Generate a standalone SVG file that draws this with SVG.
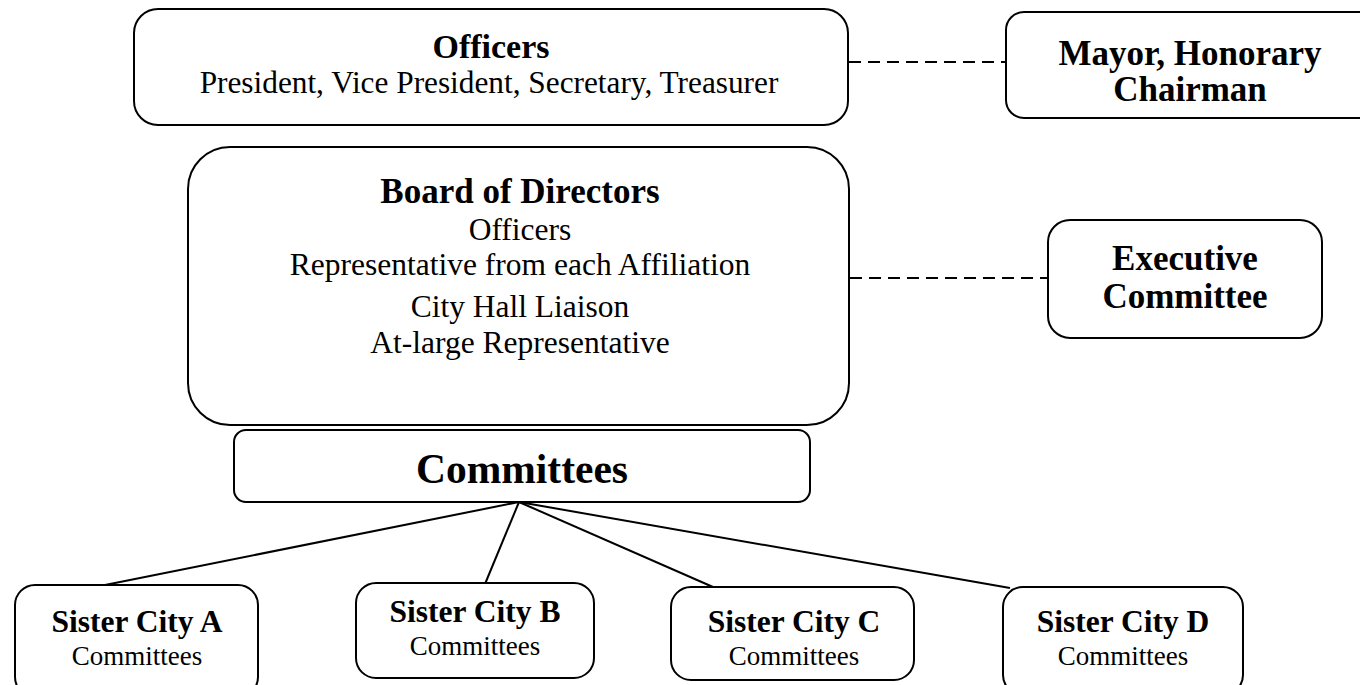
<svg xmlns="http://www.w3.org/2000/svg" width="1360" height="685" viewBox="0 0 1360 685">
<style>
.box{fill:#fff;stroke:#000;stroke-width:2}
.t{font-family:"Liberation Serif","Times New Roman",serif;text-anchor:middle;fill:#000}
.b{font-weight:bold}
.h{font-size:35px}
.r{font-size:31.5px}
.sc{font-size:31.5px;font-weight:bold}
.sm{font-size:27px}
.dash{stroke:#000;stroke-width:2;stroke-dasharray:12,7;fill:none}
.ln{stroke:#000;stroke-width:2;fill:none}
</style>
<rect width="1360" height="685" fill="#fff"/>
<g id="connectors">
<line class="dash" x1="849" y1="62" x2="1006" y2="62"/>
<line class="dash" x1="850" y1="278" x2="1048" y2="278"/>
<line class="ln" x1="519" y1="502" x2="100" y2="586"/>
<line class="ln" x1="519" y1="502" x2="485" y2="584"/>
<line class="ln" x1="519" y1="502" x2="713" y2="587"/>
<line class="ln" x1="519" y1="502" x2="1010" y2="588"/>
</g>
<g id="officers">
<rect class="box" x="134" y="9" width="714" height="116" rx="24"/>
<text class="t b" x="491" y="58" font-size="34">Officers</text>
<text class="t" x="489" y="93" font-size="31.3">President, Vice President, Secretary, Treasurer</text>
</g>
<g id="mayor">
<rect class="box" x="1006" y="12" width="370" height="106" rx="18"/>
<text class="t b h" x="1190" y="65">Mayor, Honorary</text>
<text class="t b h" x="1190" y="101">Chairman</text>
</g>
<g id="board">
<rect class="box" x="188" y="147" width="661" height="278" rx="42"/>
<text class="t b h" x="520" y="203">Board of Directors</text>
<text class="t r" x="520" y="240">Officers</text>
<text class="t r" x="520" y="275">Representative from each Affiliation</text>
<text class="t r" x="520" y="317">City Hall Liaison</text>
<text class="t r" x="520" y="353">At-large Representative</text>
</g>
<g id="executive">
<rect class="box" x="1048" y="220" width="274" height="118" rx="22"/>
<text class="t b h" x="1185" y="270">Executive</text>
<text class="t b h" x="1185" y="308">Committee</text>
</g>
<g id="committees">
<rect class="box" x="234" y="430" width="576" height="72" rx="12"/>
<text class="t b" x="522" y="483" font-size="41.5">Committees</text>
</g>
<g id="cityA">
<rect class="box" x="15" y="585" width="243" height="112" rx="20"/>
<text class="t sc" x="137" y="632">Sister City A</text>
<text class="t sm" x="137" y="665">Committees</text>
</g>
<g id="cityB">
<rect class="box" x="356" y="583" width="238" height="95" rx="20"/>
<text class="t sc" x="475" y="622">Sister City B</text>
<text class="t sm" x="475" y="655">Committees</text>
</g>
<g id="cityC">
<rect class="box" x="671" y="587" width="243" height="93" rx="20"/>
<text class="t sc" x="794" y="632">Sister City C</text>
<text class="t sm" x="794" y="665">Committees</text>
</g>
<g id="cityD">
<rect class="box" x="1003" y="587" width="240" height="108" rx="20"/>
<text class="t sc" x="1123" y="632">Sister City D</text>
<text class="t sm" x="1123" y="665">Committees</text>
</g>
</svg>
